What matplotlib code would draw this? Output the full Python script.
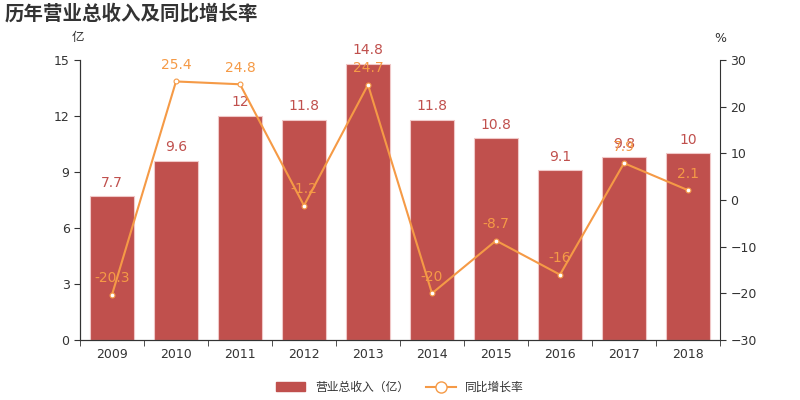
import matplotlib
matplotlib.use("Agg")
import numpy as np
from matplotlib import pyplot as plt
from matplotlib.lines import Line2D
from matplotlib.patches import Patch

plt.rcParams['font.family'] = ['DejaVu Sans', 'Noto Sans CJK SC']

years = ['2009', '2010', '2011', '2012', '2013', '2014', '2015', '2016', '2017', '2018']
revenue = [7.7, 9.6, 12, 11.8, 14.8, 11.8, 10.8, 9.1, 9.8, 10]
growth = [-20.3, 25.4, 24.8, -1.2, 24.7, -20, -8.7, -16, 7.9, 2.1]

bar_color = '#c0504d'
line_color = '#f59a46'
txt_color = '#333333'
cjk = ['Noto Sans CJK SC', 'DejaVu Sans']

fig = plt.figure(figsize=(8, 4), dpi=100)
ax = fig.add_axes([0.1, 0.15, 0.8, 0.70])
ax2 = ax.twinx()

x = np.arange(len(years))
ax.bar(x, revenue, width=0.7, color=bar_color, edgecolor='#f0c8c8', linewidth=0.8, zorder=2)
for xi, v in zip(x, revenue):
    ax.text(xi, v + 0.35, '{:g}'.format(v), ha='center', va='bottom', color=bar_color, fontsize=10)

ax.set_xlim(-0.5, len(years) - 0.5)
ax.set_ylim(0, 15)
ax.set_yticks([0, 3, 6, 9, 12, 15])
ax.set_xticks(x)
ax.set_xticklabels(years)
ax.set_xticks(np.arange(-0.5, len(years), 1), minor=True)
ax.tick_params(axis='x', which='major', length=0, pad=6)
ax.tick_params(axis='x', which='minor', length=4, color=txt_color)
ax.tick_params(axis='y', length=4, color=txt_color)
ax.tick_params(labelsize=9, labelcolor=txt_color)

ax2.plot(x, growth, color=line_color, linewidth=1.5, marker='o', markersize=3.5,
         markerfacecolor='white', markeredgecolor=line_color, markeredgewidth=0.8, zorder=3)
for xi, g in zip(x, growth):
    ax2.text(xi, g + 2, '{:g}'.format(g), ha='center', va='bottom', color=line_color, fontsize=10)
ax2.set_ylim(-30, 30)
ax2.set_yticks([-30, -20, -10, 0, 10, 20, 30])
ax2.tick_params(axis='y', length=4, color=txt_color, labelsize=9, labelcolor=txt_color)

for a in (ax, ax2):
    a.spines['top'].set_visible(False)
    for s in ('left', 'right', 'bottom'):
        a.spines[s].set_color(txt_color)
ax.spines['right'].set_visible(False)

fig.text(0.006, 0.967, '历年营业总收入及同比增长率', fontsize=14, fontweight='bold',
         color=txt_color, va='center', family=cjk)
fig.text(0.098, 0.905, '亿', fontsize=9, color=txt_color, ha='center', va='center', family=cjk)
fig.text(0.9, 0.905, '%', fontsize=9, color=txt_color, ha='center', va='center')

handles = [Patch(facecolor=bar_color, edgecolor=bar_color),
           Line2D([0], [0], color=line_color, marker='o', markersize=8,
                  markerfacecolor='white', markeredgecolor=line_color)]
fig.legend(handles, ['营业总收入（亿）', '同比增长率'], loc='center', bbox_to_anchor=(0.5, 0.032),
           ncol=2, frameon=False, prop={'family': cjk, 'size': 8.5}, handlelength=2.5,
           columnspacing=1.5, labelcolor=txt_color)

fig.savefig('out.png')
